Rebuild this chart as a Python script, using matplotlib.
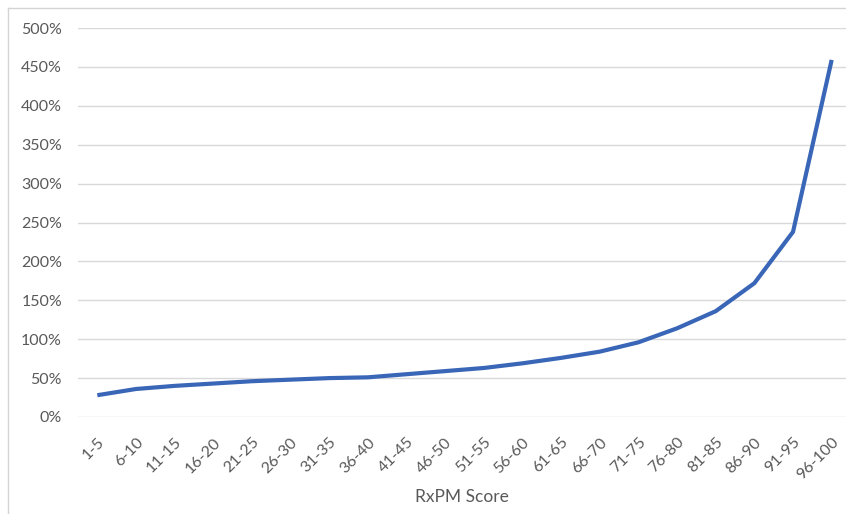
import matplotlib
matplotlib.use("Agg")
import matplotlib.pyplot as plt
from matplotlib.ticker import FuncFormatter, MultipleLocator
from matplotlib.lines import Line2D

categories = ["1-5", "6-10", "11-15", "16-20", "21-25", "26-30", "31-35",
              "36-40", "41-45", "46-50", "51-55", "56-60", "61-65", "66-70",
              "71-75", "76-80", "81-85", "86-90", "91-95", "96-100"]
ratio_pct = [28, 36, 40, 43, 46, 48, 50, 51, 55, 59,
             63, 69, 76, 84, 96, 114, 136, 172, 238, 459]

W, H = 846, 514
plt.rcParams["font.family"] = ["Lato", "DejaVu Sans"]
fig = plt.figure(figsize=(W / 100, H / 100), dpi=100)
fig.patch.set_facecolor("white")

# chart frame: left and top edges
fx, fy = 7.5 / W, 1 - 7.5 / H
fig.add_artist(Line2D([fx, fx], [0, fy], transform=fig.transFigure,
                      color="#d4d4d4", linewidth=1.0))
fig.add_artist(Line2D([fx, 1], [fy, fy], transform=fig.transFigure,
                      color="#d4d4d4", linewidth=1.0))

ax_left, ax_right = 78, 851
ax_top, ax_bottom = 28, 417
ax = fig.add_axes([ax_left / W, 1 - ax_bottom / H,
                   (ax_right - ax_left) / W, (ax_bottom - ax_top) / H])
ax.set_facecolor("none")

x = list(range(len(categories)))
ax.plot(x, ratio_pct, color="#3a66b8", linewidth=3.0, solid_capstyle="butt",
        solid_joinstyle="round", zorder=3)

ax.set_xlim(-0.5, len(categories) - 0.5)
ax.set_ylim(0, 500)
ax.yaxis.set_major_locator(MultipleLocator(50))
ax.yaxis.set_major_formatter(FuncFormatter(lambda v, _: f"{v:.0f}%"))
ax.grid(axis="y", color="#d9d9d9", linewidth=1.0)
ax.set_axisbelow(True)
for s in ax.spines.values():
    s.set_visible(False)

ax.set_xticks(x)
ax.set_xticklabels(categories, rotation=45, ha="right", rotation_mode="anchor")
ax.tick_params(axis="both", length=0, colors="#595959", labelsize=11.5)
ax.tick_params(axis="x", pad=13)
ax.tick_params(axis="y", pad=11.5)

fig.text(462 / W, 1 - 497 / H, "RxPM Score", ha="center", va="center",
         fontsize=12.5, color="#595959")

fig.savefig("out.png", dpi=100, facecolor="white")
